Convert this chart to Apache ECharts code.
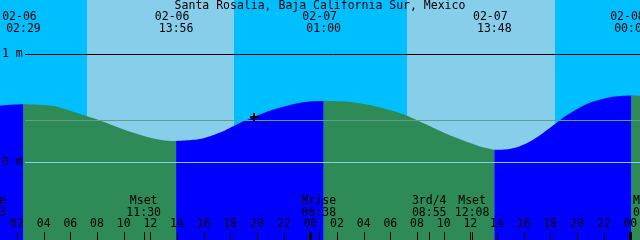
<!DOCTYPE html>
<html><head><meta charset="utf-8">
<script src="https://cdn.jsdelivr.net/npm/echarts@6/dist/echarts.min.js"></script>
<style>html,body{margin:0;padding:0;background:#00BFFF}#c{width:640px;height:240px}</style>
</head><body><div id="c"></div>
<script>
// ---- data (hours counted from 02-06 00:00 local) ----
const title = 'Santa Rosalia, Baja California Sur, Mexico';
const tideHours   = [0.725, 1.475, 2.483, 3.725, 4.85, 6.35, 7.25, 8.225, 10.1, 11.975, 13.1, 13.933,
                     15.73, 16.85, 17.6, 18.25, 18.95, 19.78, 20.6, 21.35, 22.48, 23.23, 24.13, 25.0,
                     26.6, 28.475, 30.35, 31.25, 32.0, 32.98, 34.1, 35.98, 36.95, 37.8,
                     38.8, 39.725, 40.48, 41.0, 41.6, 42.2, 42.57, 43.17, 44.23, 45.35, 46.48, 47.3, 48.083, 48.725];
const tideHeights = [0.524, 0.532, 0.537, 0.532, 0.518, 0.462, 0.425, 0.387, 0.300, 0.228, 0.203, 0.197,
                     0.215, 0.258, 0.295, 0.335, 0.378, 0.420, 0.460, 0.492, 0.530, 0.550, 0.564, 0.568,
                     0.563, 0.531, 0.469, 0.430, 0.389, 0.333, 0.270, 0.180, 0.140, 0.117,
                     0.122, 0.150, 0.192, 0.232, 0.285, 0.340, 0.375, 0.430, 0.510, 0.566, 0.601, 0.613, 0.617, 0.615];
const tideEventHours = [2.483, 13.933, 25.0, 37.8, 48.083];
const tideEventDates = ['02-06', '02-06', '02-07', '02-07', '02-08'];
const tideEventTimes = ['02:29', '13:56', '01:00', '13:48', '00:05'];
const sunriseHours = [7.25, 31.23];
const sunsetHours  = [18.28, 42.35];
const moonEventHours = [-0.117, 11.5, 24.633, 32.917, 36.133, 49.5];
const moonEventNames = ['Mrise', 'Mset', 'Mrise', '3rd/4', 'Mset', 'Mrise'];
const moonEventTimes = ['23:53', '11:30', '00:38', '08:55', '12:08', '01:30'];
const tickHours = [2,4,6,8,10,12,14,16,18,20,22,24,26,28,30,32,34,36,38,40,42,44,46,48];
const tickLabels = ['02','04','06','08','10','12','14','16','18','20','22','00','02','04','06','08','10','12','14','16','18','20','22','00'];
const levelValues = [1, 0.39, 0];
const levelLabels = ['1 m', '', '0 m'];
const nowHour = 19.78, nowHeight = 0.422;

// ---- chart ----
const FONT = '11.5px "DejaVu Sans Mono", monospace';
const levelColors = ['#000000', '#5FA08A', '#87CEEB'];
function txt(s, x, y, align) {
  return {type:'text', style:{text:s, x:x, y:y, fill:'#000', font:FONT, align:align||'center', verticalAlign:'middle'}};
}

// split tide curve into rising / falling segments at extremes
const segs = [];
let cur = [[tideHours[0], tideHeights[0]]];
for (let i = 1; i < tideHours.length; i++) {
  cur.push([tideHours[i], tideHeights[i]]);
  const isExt = i < tideHours.length - 1 &&
    ((tideHeights[i] >= tideHeights[i-1] && tideHeights[i] >= tideHeights[i+1]) ||
     (tideHeights[i] <= tideHeights[i-1] && tideHeights[i] <= tideHeights[i+1]));
  if (isExt) { segs.push(cur); cur = [[tideHours[i], tideHeights[i]]]; }
}
if (cur.length > 1) segs.push(cur);

const series = [];
series.push({
  type:'custom', z:1, silent:true,
  data: sunriseHours.map((r,i)=>[r, sunsetHours[i]]),
  renderItem:(p, api)=>{
    const x1 = Math.round(api.coord([api.value(0), 0])[0]);
    const x2 = Math.round(api.coord([api.value(1), 0])[0]);
    return {type:'rect', shape:{x:x1, y:0, width:x2-x1, height:240}, style:{fill:'#87CEEB'}};
  }
});
segs.forEach(seg=>{
  const rising = seg[seg.length-1][1] > seg[0][1];
  series.push({
    type:'line', z:2, silent:true, data:seg, smooth:0.3, showSymbol:false,
    lineStyle:{width:0, opacity:0},
    areaStyle:{color: rising ? '#0000FF' : '#2E8B57', opacity:1, origin:'start'}
  });
});
series.push({
  type:'custom', z:3, silent:true,
  data: levelValues.map((v,i)=>[tideEventHours[0], v]),
  renderItem:(p, api)=>{
    const i = p.dataIndex;
    const y = Math.round(api.coord([0, api.value(1)])[1]) + 0.5;
    const children = [{type:'line', shape:{x1:25, y1:y, x2:640, y2:y}, style:{stroke:levelColors[i], lineWidth:1}}];
    if (levelLabels[i]) children.push(txt(levelLabels[i], 2, y, 'left'));
    return {type:'group', children};
  }
});
series.push({
  type:'custom', z:4, silent:true,
  data:[[nowHour, nowHeight]],
  renderItem:(p, api)=>{
    const c = api.coord([api.value(0), api.value(1)]);
    const x = Math.round(c[0]), y = Math.round(c[1]);
    return {type:'group', children:[
      {type:'rect', shape:{x:x-4, y:y-1, width:9, height:2}, style:{fill:'#000'}},
      {type:'rect', shape:{x:x-1, y:y-4, width:2, height:9}, style:{fill:'#000'}}
    ]};
  }
});
series.push({
  type:'custom', z:5, silent:true,
  data: tideEventHours.map(h=>[h, 0]),
  renderItem:(p, api)=>{
    const i = p.dataIndex;
    const x = api.coord([api.value(0), 0])[0];
    return {type:'group', children:[txt(tideEventDates[i], x-4, 17), txt(tideEventTimes[i], x, 29)]};
  }
});
series.push({
  type:'custom', z:5, silent:true,
  data: moonEventHours.map(h=>[h, 0]),
  renderItem:(p, api)=>{
    const i = p.dataIndex;
    const x = api.coord([api.value(0), 0])[0];
    return {type:'group', children:[
      txt(moonEventNames[i], x, 201.5), txt(moonEventTimes[i], x, 213.5),
      {type:'rect', shape:{x:Math.round(x), y:232, width:1, height:8}, style:{fill:'#000'}}
    ]};
  }
});
series.push({
  type:'custom', z:5, silent:true,
  data: tickHours.map(h=>[h, 0]),
  renderItem:(p, api)=>{
    const i = p.dataIndex;
    const h = api.value(0);
    const x = api.coord([h, 0])[0];
    const thick = h % 24 === 0;
    return {type:'group', children:[
      txt(tickLabels[i], x, 224.5),
      {type:'rect', shape:{x:Math.round(x) - (thick ? 1 : 0), y:232, width: thick ? 3 : 1, height:8}, style:{fill:'#000'}}
    ]};
  }
});

const chart = echarts.init(document.getElementById('c'), null, {width:640, height:240});
chart.setOption({
  animation:false,
  backgroundColor:'#00BFFF',
  title:{text:title, left:'center', top:0, padding:0, itemGap:0,
    textStyle:{fontFamily:'"DejaVu Sans Mono", monospace', fontSize:11.5, fontWeight:'normal', color:'#000', lineHeight:12}},
  grid:{left:0, right:0, top:0, bottom:0},
  xAxis:{type:'value', min:0.725, max:48.725, show:false},
  yAxis:{type:'value', min:-0.717, max:1.5, show:false},
  series
});
</script>
</body></html>
